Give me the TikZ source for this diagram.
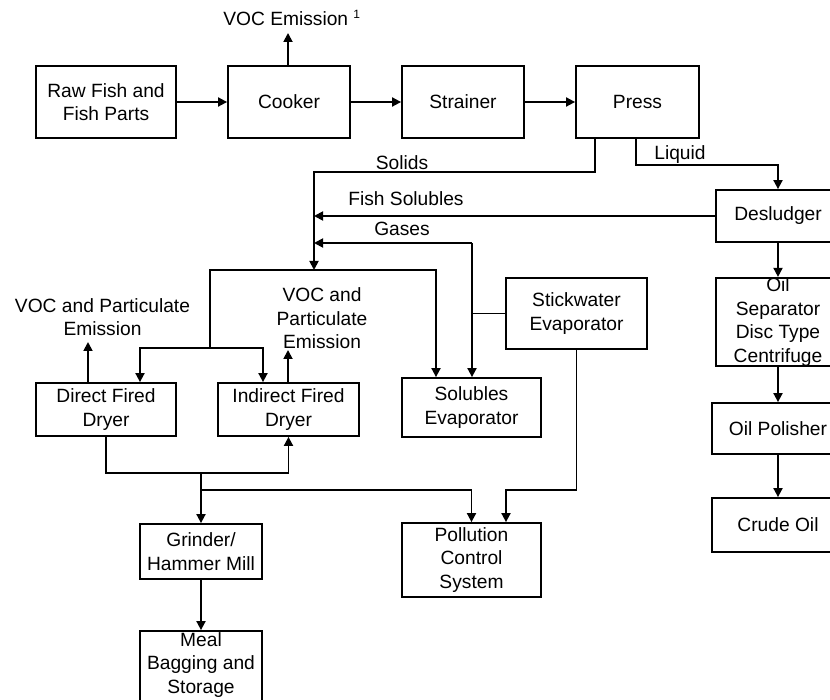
\documentclass[tikz,border=0pt]{standalone}
\usepackage{fontspec}
\setmainfont{Liberation Sans}
\usetikzlibrary{arrows.meta}
\begin{document}
\begin{tikzpicture}[x=1pt,y=-1pt,
  every node/.style={font=\fontsize{19.2}{23.5}\selectfont},
  box/.style={draw, line width=1.8pt, rectangle, align=center, inner sep=0pt},
  lbl/.style={align=center, inner sep=0pt},
  conn/.style={line width=1.8pt},
  arr/.style={line width=1.8pt, -{Triangle[length=9pt,width=9pt]}}]
\useasboundingbox (0,0) rectangle (830,700);
\clip (0,0) rectangle (830,700);
\fill[white] (0,0) rectangle (830,700);

% boxes
\node[box, minimum width=140, minimum height=72] (raw) at (106,102) {Raw Fish and\\Fish Parts};
\node[box, minimum width=122, minimum height=72] (cooker) at (289,102) {Cooker};
\node[box, minimum width=122, minimum height=72] (strainer) at (463,102) {Strainer};
\node[box, minimum width=123, minimum height=72] (press) at (637.5,102) {Press};
\node[box, minimum width=124, minimum height=52] (desl) at (778,216) {Desludger};
\node[box, minimum width=124, minimum height=88] (oilsep) at (778,322) {Oil\\Separator\\Disc Type\\Centrifuge};
\node[box, minimum width=132, minimum height=51] (polish) at (778,428.5) {Oil Polisher};
\node[box, minimum width=132, minimum height=54] (crude) at (778,525) {Crude Oil};
\node[box, minimum width=141, minimum height=71] (stick) at (576.5,313.5) {Stickwater\\Evaporator};
\node[box, minimum width=139, minimum height=59] (solev) at (471.5,407.5) {Solubles\\Evaporator};
\node[box, minimum width=139, minimum height=74] (pcs) at (471.5,560) {Pollution\\Control\\System};
\node[box, minimum width=140, minimum height=53] (direct) at (106,409.5) {Direct Fired\\Dryer};
\node[box, minimum width=141, minimum height=53] (indirect) at (288.5,409.5) {Indirect Fired\\Dryer};
\node[box, minimum width=122, minimum height=55] (grinder) at (201,551.5) {Grinder/\\Hammer Mill};
\node[box, minimum width=122, minimum height=78] (meal) at (201,670) {};
\node[lbl] (mealtxt) at (201,665) {Meal\\Bagging and\\Storage};

% labels
\node[lbl] (voc1) at (292,18) {VOC Emission \textsuperscript{\fontsize{12}{12}\selectfont 1}};
\node[lbl] (voc2) at (102.5,317) {VOC and Particulate\\Emission};
\node[lbl] (voc3) at (322,318.5) {VOC and\\Particulate\\Emission};
\node[lbl] (solids) at (402,163) {Solids};
\node[lbl] (fishsol) at (406,199) {Fish Solubles};
\node[lbl] (gases) at (402,229) {Gases};
\node[lbl] (liquid) at (680,155) {Liquid};

% coordinates
\coordinate (voctip) at (288,33);
\coordinate (hub) at (314,270);
\coordinate (solx) at (595,172);
\coordinate (gx) at (472,243);
\coordinate (dsplit) at (210,348);
\coordinate (dr) at (436,270);
\coordinate (dlx) at (140,348);
\coordinate (drx) at (263,348);
\coordinate (em1) at (88,342);
\coordinate (em2) at (288,350);
\coordinate (gj) at (201,472);
\coordinate (pj) at (201,490);
\coordinate (sj) at (506,490);

% top row
\draw[arr] (raw) -- (cooker);
\draw[arr] (cooker) -- (strainer);
\draw[arr] (strainer) -- (press);
\draw[arr] (voctip |- cooker.north) -- (voctip);

% solids / liquid
\draw[arr] (solx |- press.south) -- (solx) -- (solx -| hub) -- (hub);
\draw[arr] ([xshift=-1.5pt]press.south) -- ++(0,26) -| (desl.north);
\draw[arr] (desl.west) -- (desl.west -| hub);
\draw[arr] (gx) -- (gx -| hub);
\draw[arr] (gx) -- (gx |- solev.north);
\draw[conn] (stick.west) -- (stick.west -| gx);

% distribution
\draw[arr] (dsplit) |- (dr) -- (dr |- solev.north);
\draw[arr] (dsplit) -- (dlx) -- (dlx |- direct.north);
\draw[arr] (dsplit) -- (drx) -- (drx |- indirect.north);
\draw[arr] (em1 |- direct.north) -- (em1);
\draw[arr] (em2 |- indirect.north) -- (em2);

% dryers bottom
\draw[arr] (direct.south) -- ++(0,36) -| (indirect.south);
\draw[arr] (gj) -- (grinder.north);
\draw[arr] (pj) -| (pcs.north);
\draw[arr] (stick.south) |- (sj) -- (sj |- pcs.north);
\draw[arr] (grinder) -- (meal);

% oil line
\draw[arr] (desl) -- (oilsep);
\draw[arr] (oilsep.south -| polish.north) -- (polish.north);
\draw[arr] (polish) -- (crude);
\end{tikzpicture}
\end{document}
